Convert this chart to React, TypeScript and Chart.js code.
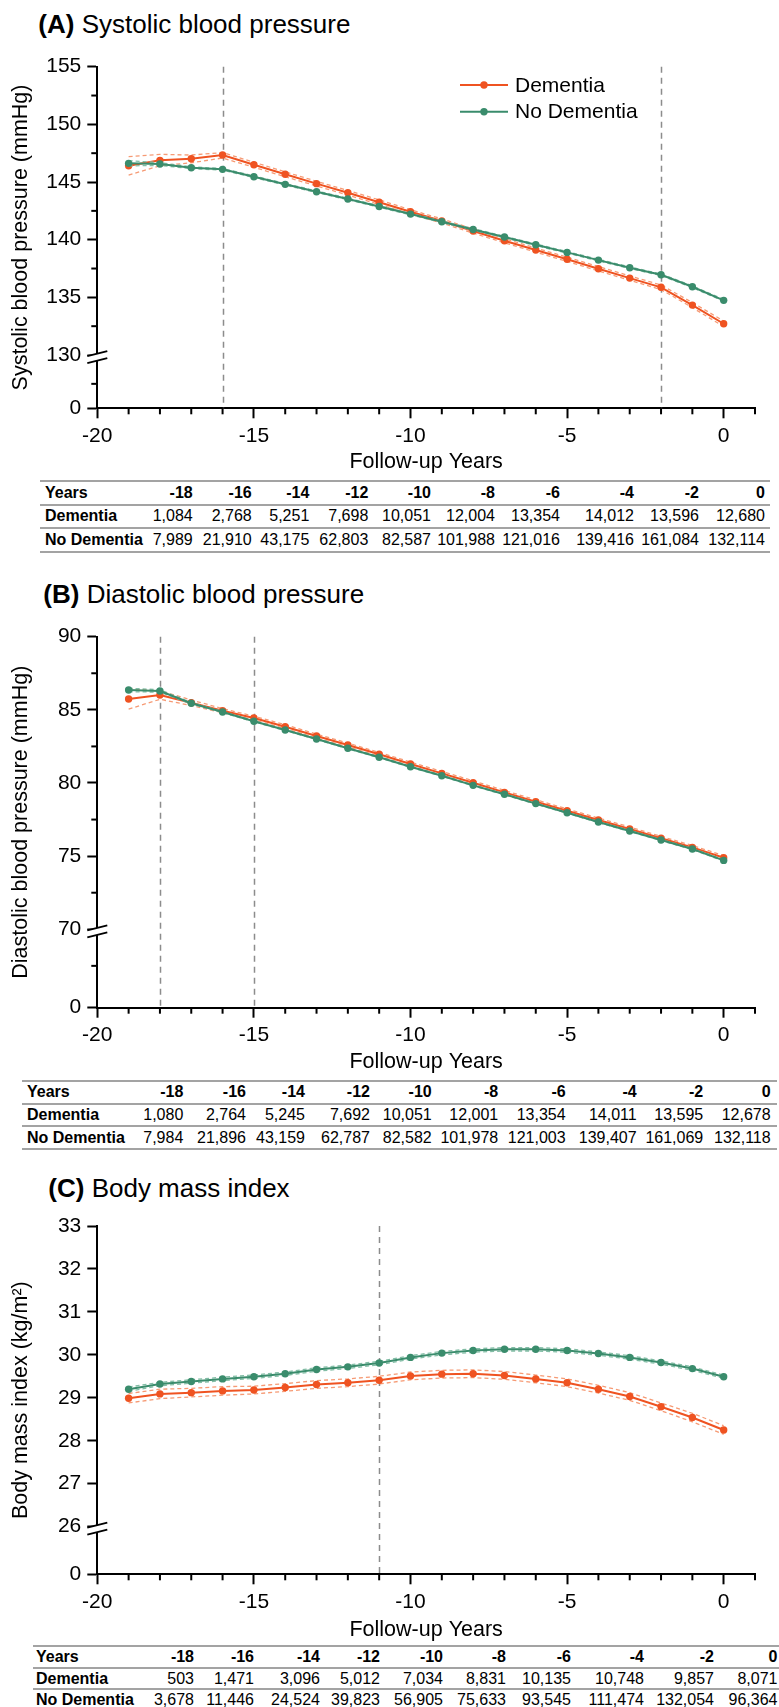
import React, { useEffect, useRef } from 'react';
import { Chart, registerables } from 'chart.js';

Chart.register(...registerables);

const FONT = '"Liberation Sans", Arial, Helvetica, sans-serif';
const ORANGE = '#EF5321';
const GREEN = '#3A8C6C';
const ORANGE_CI = '#F69A74';
const GREEN_CI = '#82BDA5';

// ---------- shared axis values ----------
const years = [-19, -18, -17, -16, -15, -14, -13, -12, -11, -10, -9, -8, -7, -6, -5, -4, -3, -2, -1, 0];
const xMajorTicks = [-20, -15, -10, -5, 0];
const xMinorTicks = [-19, -18, -17, -16, -14, -13, -12, -11, -9, -8, -7, -6, -4, -3, -2, -1, 1];
const tableYears = ['-18', '-16', '-14', '-12', '-10', '-8', '-6', '-4', '-2', '0'];

// ---------- (A) Systolic blood pressure ----------
const sbpDementia = [146.41, 146.88, 147.02, 147.34, 146.5, 145.67, 144.86, 144.07, 143.25, 142.42, 141.62, 140.75, 139.91, 139.1, 138.3, 137.48, 136.67, 135.87, 134.33, 132.71];
const sbpDementiaHi = [147.2, 147.4, 147.34, 147.55, 146.72, 145.88, 145.06, 144.27, 143.45, 142.6, 141.8, 140.93, 140.09, 139.28, 138.48, 137.67, 136.86, 136.07, 134.55, 132.95];
const sbpDementiaLo = [145.6, 146.41, 146.67, 147.08, 146.28, 145.46, 144.66, 143.87, 143.05, 142.24, 141.44, 140.57, 139.73, 138.92, 138.12, 137.29, 136.48, 135.67, 134.11, 132.47];
const sbpNoDementia = [146.62, 146.56, 146.24, 146.1, 145.46, 144.8, 144.16, 143.53, 142.88, 142.22, 141.56, 140.89, 140.23, 139.56, 138.9, 138.23, 137.57, 136.96, 135.92, 134.74];
const sbpNoDementiaHi = [146.85, 146.68, 146.32, 146.17, 145.53, 144.87, 144.23, 143.6, 142.95, 142.29, 141.63, 140.96, 140.3, 139.63, 138.97, 138.3, 137.64, 137.03, 135.99, 134.82];
const sbpNoDementiaLo = [146.4, 146.44, 146.16, 146.03, 145.39, 144.73, 144.09, 143.46, 142.81, 142.15, 141.49, 140.82, 140.16, 139.49, 138.83, 138.16, 137.5, 136.89, 135.85, 134.66];
const sbpYMajor = [130, 135, 140, 145, 150, 155];
const sbpYMinor = [127.5, 132.5, 137.5, 142.5, 147.5, 152.5];
const sbpVLines = [-16, -2];
const sbpCountDementia = ['1,084', '2,768', '5,251', '7,698', '10,051', '12,004', '13,354', '14,012', '13,596', '12,680'];
const sbpCountNoDementia = ['7,989', '21,910', '43,175', '62,803', '82,587', '101,988', '121,016', '139,416', '161,084', '132,114'];

// ---------- (B) Diastolic blood pressure ----------
const dbpDementia = [85.74, 86.01, 85.49, 84.94, 84.44, 83.85, 83.21, 82.6, 81.96, 81.3, 80.66, 80.02, 79.36, 78.72, 78.1, 77.47, 76.86, 76.22, 75.6, 74.89];
const dbpDementiaHi = [86.45, 86.3, 85.68, 85.08, 84.57, 83.98, 83.34, 82.73, 82.09, 81.43, 80.79, 80.15, 79.49, 78.85, 78.23, 77.6, 76.99, 76.35, 75.73, 75.03];
const dbpDementiaLo = [85.05, 85.72, 85.3, 84.8, 84.31, 83.72, 83.08, 82.47, 81.83, 81.17, 80.53, 79.89, 79.23, 78.59, 77.97, 77.34, 76.73, 76.09, 75.47, 74.75];
const dbpNoDementia = [86.36, 86.29, 85.45, 84.85, 84.22, 83.62, 83.01, 82.37, 81.76, 81.11, 80.5, 79.84, 79.23, 78.59, 77.97, 77.33, 76.72, 76.1, 75.49, 74.71];
const dbpNoDementiaHi = [86.48, 86.37, 85.5, 84.89, 84.26, 83.66, 83.05, 82.41, 81.8, 81.15, 80.54, 79.88, 79.27, 78.63, 78.01, 77.37, 76.76, 76.14, 75.53, 74.76];
const dbpNoDementiaLo = [86.24, 86.21, 85.4, 84.81, 84.18, 83.58, 82.97, 82.33, 81.72, 81.07, 80.46, 79.8, 79.19, 78.55, 77.93, 77.29, 76.68, 76.06, 75.45, 74.66];
const dbpYMajor = [70, 75, 80, 85, 90];
const dbpYMinor = [67.5, 72.5, 77.5, 82.5, 87.5];
const dbpVLines = [-18, -15];
const dbpCountDementia = ['1,080', '2,764', '5,245', '7,692', '10,051', '12,001', '13,354', '14,011', '13,595', '12,678'];
const dbpCountNoDementia = ['7,984', '21,896', '43,159', '62,787', '82,582', '101,978', '121,003', '139,407', '161,069', '132,118'];

// ---------- (C) Body mass index ----------
const bmiDementia = [28.99, 29.09, 29.12, 29.16, 29.18, 29.24, 29.31, 29.35, 29.41, 29.51, 29.55, 29.56, 29.52, 29.44, 29.35, 29.2, 29.03, 28.79, 28.54, 28.25];
const bmiDementiaHi = [29.1, 29.2, 29.22, 29.26, 29.27, 29.33, 29.4, 29.44, 29.5, 29.6, 29.64, 29.65, 29.61, 29.53, 29.44, 29.29, 29.12, 28.88, 28.64, 28.35];
const bmiDementiaLo = [28.88, 28.98, 29.02, 29.06, 29.09, 29.15, 29.22, 29.26, 29.32, 29.42, 29.46, 29.47, 29.43, 29.35, 29.26, 29.11, 28.94, 28.7, 28.44, 28.15];
const bmiNoDementia = [29.2, 29.32, 29.38, 29.44, 29.49, 29.56, 29.66, 29.72, 29.81, 29.94, 30.04, 30.1, 30.13, 30.13, 30.1, 30.03, 29.94, 29.82, 29.68, 29.49];
const bmiNoDementiaHi = [29.25, 29.36, 29.42, 29.48, 29.53, 29.6, 29.7, 29.76, 29.85, 29.98, 30.08, 30.14, 30.17, 30.17, 30.14, 30.07, 29.98, 29.86, 29.72, 29.53];
const bmiNoDementiaLo = [29.15, 29.28, 29.34, 29.4, 29.45, 29.52, 29.62, 29.68, 29.77, 29.9, 30.0, 30.06, 30.09, 30.09, 30.06, 29.99, 29.9, 29.78, 29.64, 29.45];
const bmiYMajor = [26, 27, 28, 29, 30, 31, 32, 33];
const bmiYMinor: number[] = [];
const bmiVLines = [-11];
const bmiCountDementia = ['503', '1,471', '3,096', '5,012', '7,034', '8,831', '10,135', '10,748', '9,857', '8,071'];
const bmiCountNoDementia = ['3,678', '11,446', '24,524', '39,823', '56,905', '75,633', '93,545', '111,474', '132,054', '96,364'];

type Panel = {
  top: number; height: number; chartTop: number; chartBottom: number; xTitleY: number;
  yMin: number; yMax: number; yMajor: number[]; yMinor: number[]; breakAt: number;
  yTitle: string; vlines: number[]; legend: boolean;
  dem: number[]; demHi: number[]; demLo: number[];
  nod: number[]; nodHi: number[]; nodLo: number[];
};

const W = 779;
const CHART_LEFT = 97.3;
const CHART_RIGHT = 755;

const panels: Panel[] = [
  {
    top: 40, height: 440, chartTop: 26.7, chartBottom: 368.3, xTitleY: 421.7,
    yMin: 125.38, yMax: 155, yMajor: sbpYMajor, yMinor: sbpYMinor, breakAt: 130,
    yTitle: 'Systolic blood pressure (mmHg)', vlines: sbpVLines, legend: true,
    dem: sbpDementia, demHi: sbpDementiaHi, demLo: sbpDementiaLo,
    nod: sbpNoDementia, nodHi: sbpNoDementiaHi, nodLo: sbpNoDementiaLo,
  },
  {
    top: 610, height: 470, chartTop: 26.7, chartBottom: 397.7, xTitleY: 451.7,
    yMin: 64.64, yMax: 90, yMajor: dbpYMajor, yMinor: dbpYMinor, breakAt: 70,
    yTitle: 'Diastolic blood pressure (mmHg)', vlines: dbpVLines, legend: false,
    dem: dbpDementia, demHi: dbpDementiaHi, demLo: dbpDementiaLo,
    nod: dbpNoDementia, nodHi: dbpNoDementiaHi, nodLo: dbpNoDementiaLo,
  },
  {
    top: 1200, height: 445, chartTop: 26, chartBottom: 374.3, xTitleY: 430,
    yMin: 24.89, yMax: 33, yMajor: bmiYMajor, yMinor: bmiYMinor, breakAt: 26,
    yTitle: 'Body mass index (kg/m\u00B2)', vlines: bmiVLines, legend: false,
    dem: bmiDementia, demHi: bmiDementiaHi, demLo: bmiDementiaLo,
    nod: bmiNoDementia, nodHi: bmiNoDementiaHi, nodLo: bmiNoDementiaLo,
  },
];

function pts(arr: number[]) {
  return years.map((x, i) => ({ x, y: arr[i] }));
}

function mainLine(label: string, data: number[], color: string) {
  return {
    label, data: pts(data), borderColor: color, backgroundColor: color, borderWidth: 2,
    pointRadius: 3.7, pointBorderWidth: 0, pointBackgroundColor: color, tension: 0,
  };
}
function ciLine(label: string, data: number[], color: string) {
  return {
    label, data: pts(data), borderColor: color, borderWidth: 1.3, borderDash: [4, 3],
    pointRadius: 0, tension: 0, fill: false,
  };
}

function makeChart(canvas: HTMLCanvasElement, p: Panel) {
  const isMajorX = (v: number) => xMajorTicks.indexOf(v) >= 0;
  const TITLE_SIZE = 21.5;
  const overlay = {
    id: 'overlay',
    beforeDatasetsDraw(chart: any) {
      const { ctx, chartArea, scales } = chart;
      ctx.save();
      ctx.strokeStyle = '#8c8c8c';
      ctx.lineWidth = 1.5;
      ctx.setLineDash([6, 5]);
      p.vlines.forEach((v) => {
        const px = Math.round(scales.x.getPixelForValue(v)) + 0.5;
        ctx.beginPath();
        ctx.moveTo(px, chartArea.top);
        ctx.lineTo(px, chartArea.bottom);
        ctx.stroke();
      });
      ctx.restore();
    },
    afterDraw(chart: any) {
      const { ctx, chartArea, scales } = chart;
      ctx.save();
      ctx.setLineDash([]);
      ctx.strokeStyle = '#000';
      ctx.lineWidth = 2;
      // minor ticks
      xMinorTicks.forEach((v) => {
        const px = scales.x.getPixelForValue(v);
        ctx.beginPath();
        ctx.moveTo(px, chartArea.bottom);
        ctx.lineTo(px, chartArea.bottom + 6);
        ctx.stroke();
      });
      p.yMinor.forEach((v) => {
        const py = scales.y.getPixelForValue(v);
        ctx.beginPath();
        ctx.moveTo(chartArea.left - 6, py);
        ctx.lineTo(chartArea.left, py);
        ctx.stroke();
      });
      // axis break
      const yb = scales.y.getPixelForValue(p.breakAt);
      const lx = chartArea.left;
      ctx.fillStyle = '#fff';
      ctx.beginPath();
      ctx.moveTo(lx - 10, yb + 1);
      ctx.lineTo(lx + 10, yb - 4);
      ctx.lineTo(lx + 10, yb + 3);
      ctx.lineTo(lx - 10, yb + 8);
      ctx.closePath();
      ctx.fill();
      ctx.lineWidth = 1.8;
      ctx.beginPath();
      ctx.moveTo(lx - 10, yb + 1);
      ctx.lineTo(lx + 10, yb - 4);
      ctx.moveTo(lx - 10, yb + 8);
      ctx.lineTo(lx + 10, yb + 3);
      ctx.stroke();
      // legend
      if (p.legend) {
        const items = [
          { label: 'Dementia', color: ORANGE, y: 45 },
          { label: 'No Dementia', color: GREEN, y: 71.7 },
        ];
        items.forEach((it) => {
          ctx.strokeStyle = it.color;
          ctx.lineWidth = 2;
          ctx.beginPath();
          ctx.moveTo(460, it.y);
          ctx.lineTo(508, it.y);
          ctx.stroke();
          ctx.fillStyle = it.color;
          ctx.beginPath();
          ctx.arc(484, it.y, 3.7, 0, Math.PI * 2);
          ctx.fill();
          ctx.fillStyle = '#000';
          ctx.font = `21px ${FONT}`;
          ctx.textBaseline = 'middle';
          ctx.textAlign = 'left';
          ctx.fillText(it.label, 515, it.y + 1);
        });
      }
      ctx.restore();
    },
  };

  const tickFont = { family: FONT, size: 21 };
  return new Chart(canvas, {
    type: 'line',
    data: {
      datasets: [
        mainLine('No Dementia', p.nod, GREEN),
        ciLine('No Dementia upper', p.nodHi, GREEN_CI),
        ciLine('No Dementia lower', p.nodLo, GREEN_CI),
        mainLine('Dementia', p.dem, ORANGE),
        ciLine('Dementia upper', p.demHi, ORANGE_CI),
        ciLine('Dementia lower', p.demLo, ORANGE_CI),
      ] as any,
    },
    options: {
      animation: false,
      responsive: false,
      devicePixelRatio: 1,
      layout: { padding: { top: p.chartTop, right: W - CHART_RIGHT, bottom: 0, left: 0 } },
      plugins: { legend: { display: false }, tooltip: { enabled: false }, title: { display: false } },
      scales: {
        x: {
          type: 'linear', min: -20, max: 1,
          afterBuildTicks: (s: any) => {
            const all = [...xMajorTicks, ...xMinorTicks].sort((a, b) => a - b);
            s.ticks = all.map((v) => ({ value: v }));
          },
          afterFit: (s: any) => { s.height = p.height - p.chartBottom; },
          ticks: {
            autoSkip: false, maxRotation: 0, color: '#000', font: tickFont, padding: 5,
            callback: (v: any) => (isMajorX(Number(v)) ? String(v) : ''),
          },
          grid: {
            drawOnChartArea: false, drawTicks: true, tickLength: 10, tickWidth: 2,
            tickColor: (c: any) => (c.tick && isMajorX(c.tick.value) ? '#000' : 'rgba(0,0,0,0)'),
          },
          border: { display: true, color: '#000', width: 2 },
          title: {
            display: true, text: 'Follow-up Years', color: '#000',
            font: { family: FONT, size: TITLE_SIZE },
            padding: { top: 0, bottom: p.height - TITLE_SIZE * 0.6 - p.xTitleY },
          },
        },
        y: {
          type: 'linear', min: p.yMin, max: p.yMax,
          afterBuildTicks: (s: any) => {
            s.ticks = [p.yMin, ...p.yMajor].map((v) => ({ value: v }));
          },
          afterFit: (s: any) => { s.width = CHART_LEFT; },
          ticks: {
            autoSkip: false, color: '#000', font: tickFont, padding: 6,
            callback: (v: any) => (Math.abs(Number(v) - p.yMin) < 1e-6 ? '0' : String(v)),
          },
          grid: { drawOnChartArea: false, drawTicks: true, tickLength: 10, tickWidth: 2, tickColor: '#000' },
          border: { display: true, color: '#000', width: 2 },
          title: {
            display: true, text: p.yTitle, color: '#000',
            font: { family: FONT, size: TITLE_SIZE },
            padding: { top: 8.5, bottom: 0 },
          },
        },
      },
    } as any,
    plugins: [overlay],
  });
}

function PanelChart({ p }: { p: Panel }) {
  const ref = useRef<HTMLCanvasElement | null>(null);
  useEffect(() => {
    if (!ref.current) return;
    const c = makeChart(ref.current, p);
    return () => c.destroy();
  }, [p]);
  return (
    <canvas
      ref={ref}
      width={W}
      height={p.height}
      style={{ position: 'absolute', left: 0, top: p.top, width: W, height: p.height }}
    />
  );
}

type TableCfg = {
  left: number; right: number; top: number; rowH: number; labelPad: number; labelEnd: number;
  rights: number[]; dem: string[]; nod: string[];
};

const tables: TableCfg[] = [
  { left: 40, right: 770, top: 480, rowH: 23.5, labelPad: 5, labelEnd: 150, rights: [192.7, 251.7, 309.3, 368.3, 431, 495, 560, 634, 699, 765], dem: sbpCountDementia, nod: sbpCountNoDementia },
  { left: 22, right: 777, top: 1080, rowH: 22.7, labelPad: 5, labelEnd: 140, rights: [183.3, 246, 305, 370, 431.7, 498.3, 565.7, 636.7, 703.3, 770.7], dem: dbpCountDementia, nod: dbpCountNoDementia },
  { left: 32.5, right: 779, top: 1645, rowH: 21.7, labelPad: 3.5, labelEnd: 150, rights: [194, 254, 320, 380, 443, 506, 571, 644, 714, 777.5], dem: bmiCountDementia, nod: bmiCountNoDementia },
];

function CountTable({ t }: { t: TableCfg }) {
  const rows = [
    { label: 'Years', vals: tableYears, bold: true },
    { label: 'Dementia', vals: t.dem, bold: false },
    { label: 'No Dementia', vals: t.nod, bold: false },
  ];
  const widths = t.rights.map((r, i) => r - (i === 0 ? t.labelEnd : t.rights[i - 1]));
  return (
    <div style={{ position: 'absolute', left: t.left, top: t.top, width: t.right - t.left, fontSize: 16, fontFamily: FONT, color: '#000' }}>
      {rows.map((r, ri) => (
        <div
          key={r.label}
          style={{
            display: 'flex', boxSizing: 'border-box', height: t.rowH + (ri === 2 ? 2 : 0),
            borderTop: '2px solid #a3a3a3', borderBottom: ri === 2 ? '2px solid #a3a3a3' : 'none',
            alignItems: 'center', whiteSpace: 'nowrap',
          }}
        >
          <div style={{ width: t.labelEnd - t.left - t.labelPad, paddingLeft: t.labelPad, fontWeight: 'bold' }}>{r.label}</div>
          {r.vals.map((v, i) => (
            <div key={i} style={{ width: widths[i], textAlign: 'right', fontWeight: r.bold ? 'bold' : 'normal' }}>{v}</div>
          ))}
        </div>
      ))}
    </div>
  );
}

const titles = [
  { tag: '(A)', text: 'Systolic blood pressure', left: 38.3, top: 11.3 },
  { tag: '(B)', text: 'Diastolic blood pressure', left: 43.3, top: 580.7 },
  { tag: '(C)', text: 'Body mass index', left: 48.3, top: 1175.3 },
];

export default function App() {
  return (
    <div style={{ position: 'absolute', left: 0, top: 0, width: W, height: 1707, background: '#fff', overflow: 'hidden', fontFamily: FONT }}>
      {titles.map((t) => (
        <div key={t.tag} style={{ position: 'absolute', left: t.left, top: t.top, fontSize: 26, lineHeight: '26px', whiteSpace: 'nowrap', color: '#000' }}>
          <b>{t.tag}</b> {t.text}
        </div>
      ))}
      {panels.map((p, i) => (
        <PanelChart key={i} p={p} />
      ))}
      {tables.map((t, i) => (
        <CountTable key={i} t={t} />
      ))}
    </div>
  );
}
